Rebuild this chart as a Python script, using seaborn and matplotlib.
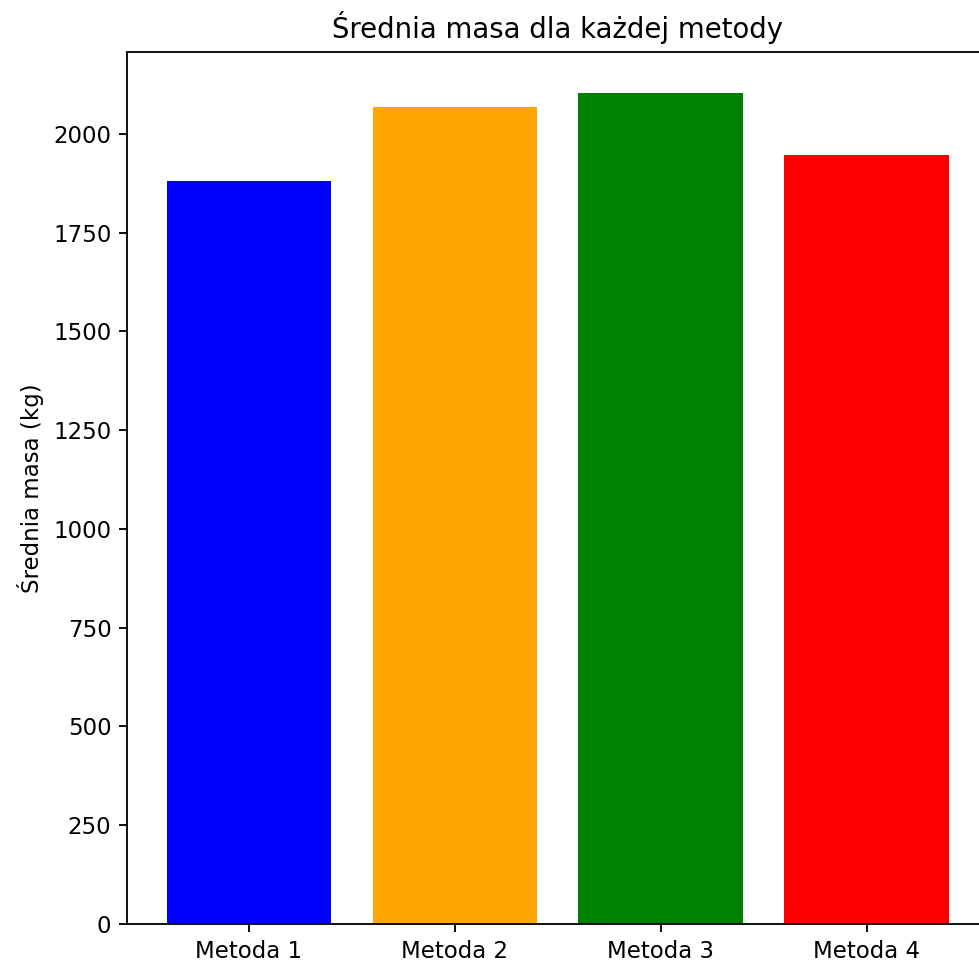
import matplotlib
matplotlib.use("Agg")
import matplotlib.pyplot as plt
import seaborn as sns
import pandas as pd

methods = ["Metoda 1", "Metoda 2", "Metoda 3", "Metoda 4"]
mean_mass = [1880, 2069, 2103, 1946]
bar_colors = ["blue", "orange", "green", "red"]

df = pd.DataFrame({"Metoda": methods, "Masa": mean_mass})

DPI = 165
W, H = 979, 965
fig = plt.figure(figsize=(W / DPI, H / DPI), dpi=DPI)
ax = fig.add_axes([127.5 / W, (H - 924) / H, 860.7 / W, (924 - 51.7) / H])

sns.barplot(data=df, x="Metoda", y="Masa", hue="Metoda", palette=bar_colors,
            saturation=1, width=0.8, legend=False, ax=ax)

ax.set_xlim(-0.59, 3.59)
ax.set_ylim(0, max(mean_mass) * 1.05)
ax.set_yticks(range(0, 2001, 250))
ax.set_title("Średnia masa dla każdej metody", fontsize=12)
ax.set_ylabel("Średnia masa (kg)")
ax.set_xlabel("")

fig.savefig("out.png", dpi=DPI)
